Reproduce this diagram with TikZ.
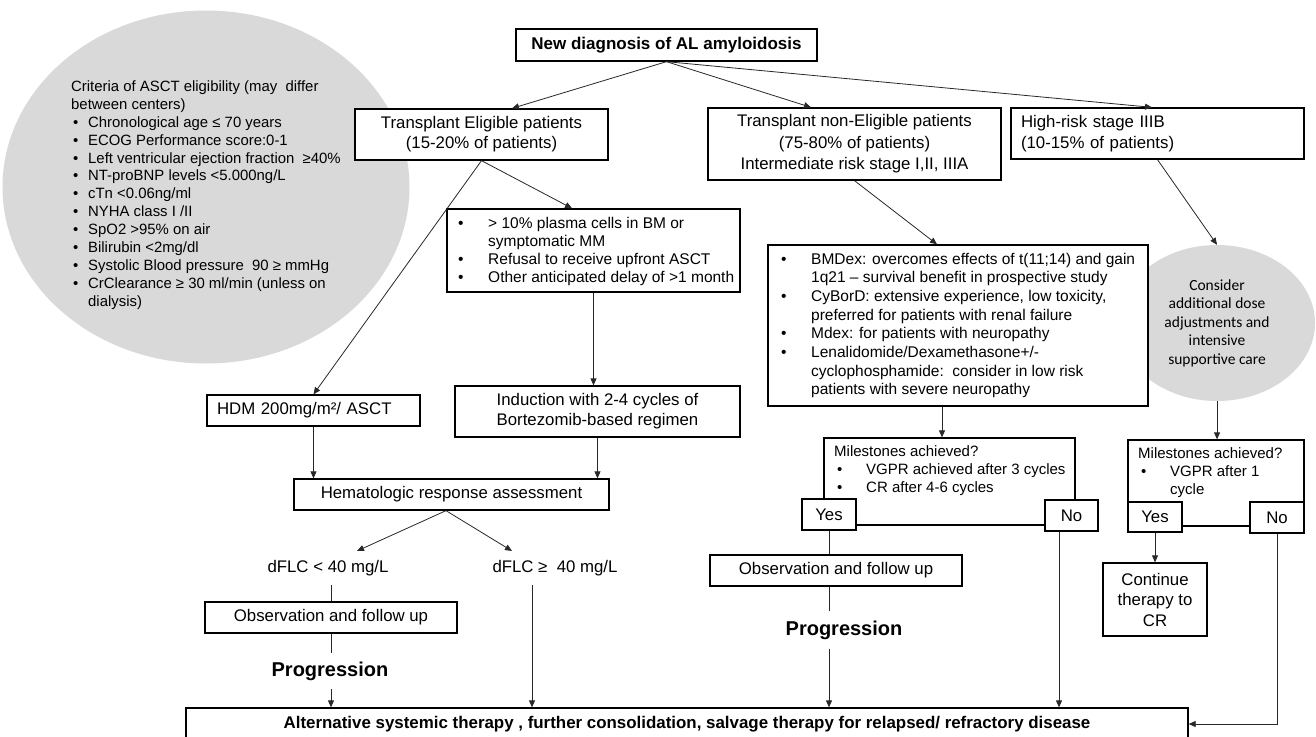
\documentclass[tikz,border=0pt]{standalone}
\usepackage{fontspec}
\setmainfont{Liberation Sans}
\newfontfamily\carlito{Carlito}
\usetikzlibrary{shapes.geometric,arrows.meta}
\definecolor{ellgray}{RGB}{217,217,217}
\definecolor{linec}{RGB}{40,40,40}
\newcommand\myfs[2]{\fontsize{#1}{#2}\selectfont}
\newcommand\bul[1]{\makebox[#1][l]{•}}
\begin{document}
\begin{tikzpicture}[x=1pt,y=-1pt,
  box/.style={draw=black, line width=1.3pt, fill=white, inner sep=0pt, font=\myfs{16.8}{20}},
  txt/.style={inner sep=0pt, align=left, font=\myfs{16.8}{20}},
  conn/.style={draw=linec, line width=0.8pt},
  arr/.style={conn, -{Triangle[length=7pt,width=6pt]}},
  blob/.style={ellipse, fill=ellgray, draw=none, inner sep=0pt},
]
\useasboundingbox (0,0) rectangle (1316,736);
\fill[white] (0,0) rectangle (1316,736);
\clip (0,0) rectangle (1316,736);

% background ellipses
\node[blob, minimum width=407pt, minimum height=353pt] (ellL) at (206,187) {};
\node[txt, anchor=west, font=\myfs{14.9}{17.9}] (crit) at (71,195) {Criteria of ASCT eligibility (may\ \ differ\\
between centers)\\
\hspace*{2pt}\bul{15pt}Chronological age ≤ 70 years\\
\hspace*{2pt}\bul{15pt}ECOG Performance score:0-1\\
\hspace*{2pt}\bul{15pt}Left ventricular ejection fraction\ \ ≥40\%\\
\hspace*{2pt}\bul{15pt}NT-proBNP levels <5.000ng/L\\
\hspace*{2pt}\bul{15pt}cTn <0.06ng/ml\\
\hspace*{2pt}\bul{15pt}NYHA class I /II\\
\hspace*{2pt}\bul{15pt}SpO2 >95\% on air\\
\hspace*{2pt}\bul{15pt}Bilirubin <2mg/dl\\
\hspace*{2pt}\bul{15pt}Systolic Blood pressure\ \ 90 ≥ mmHg\\
\hspace*{2pt}\bul{15pt}CrClearance ≥ 30 ml/min (unless on\\
\hspace*{17pt}dialysis)};
\node[blob, minimum width=196pt, minimum height=156pt, align=center, font=\carlito\myfs{15.5}{18.5}] (ellR) at (1217,323) {Consider\\additional dose\\adjustments and\\intensive\\supportive care};

% boxes
\node[box, minimum width=301pt, minimum height=32pt, font=\bfseries\myfs{17}{20}] (top) at (666.5,45) {New diagnosis of AL amyloidosis};
\node[box, minimum width=253pt, minimum height=51pt, align=center] (elig) at (481.5,134.5) {Transplant Eligible patients\\(15-20\% of patients)};
\node[box, minimum width=293pt, minimum height=72pt, align=center, font=\myfs{16.8}{21.5}] (nonelig) at (854.5,144) {Transplant non-Eligible patients\\(75-80\% of patients)\\Intermediate risk stage I,II, IIIA};
\node[box, minimum width=293pt, minimum height=51pt, text width=273pt, align=left, font=\myfs{16.8}{21}] (high) at (1157.5,133.5) {High-risk stage IIIB\\(10-15\% of patients)};

\node[box, minimum width=293pt, minimum height=83pt] (plasma) at (593.5,250.5) {};
\node[txt, anchor=west, font=\myfs{15.5}{18}] (plasmat) at (458,251) {\bul{30pt}> 10\% plasma cells in BM or\\
\hspace*{30pt}symptomatic MM\\
\bul{30pt}Refusal to receive upfront ASCT\\
\bul{30pt}Other anticipated delay of >1 month};

\node[box, minimum width=380pt, minimum height=161pt] (bmdex) at (958,325.5) {};
\node[txt, anchor=west, font=\myfs{15.5}{18.7}] (bmdext) at (781,325.5) {\bul{30pt}BMDex: overcomes effects of t(11;14) and gain\\
\hspace*{30pt}1q21 – survival benefit in prospective study\\
\bul{30pt}CyBorD: extensive experience, low toxicity,\\
\hspace*{30pt}preferred for patients with renal failure\\
\bul{30pt}Mdex: for patients with neuropathy\\
\bul{30pt}Lenalidomide/Dexamethasone+/-\\
\hspace*{30pt}cyclophosphamide:\ \ consider in low risk\\
\hspace*{30pt}patients with severe neuropathy};

\node[box, minimum width=213pt, minimum height=31pt, text width=193pt, align=left] (hdm) at (313.5,410.5) {HDM 200mg/m²/ ASCT};
\node[box, minimum width=285pt, minimum height=51pt, align=center] (induct) at (597.5,411.5) {Induction with 2-4 cycles of\\Bortezomib-based regimen};
\node[box, minimum width=315pt, minimum height=31pt] (hema) at (451.5,494.5) {Hematologic response assessment};

\node[txt, inner ysep=9pt] (d1) at (328,568) {dFLC < 40 mg/L};
\node[txt, inner ysep=9pt] (d2) at (555,568) {dFLC ≥\ \ 40 mg/L};
\node[box, minimum width=252pt, minimum height=31pt] (obs1) at (331,617.5) {Observation and follow up};
\node[txt, inner ysep=8pt, font=\bfseries\myfs{20}{24}] (prog1) at (330,671) {Progression};

\node[box, minimum width=251pt, minimum height=87pt] (ms1) at (949.5,481.5) {};
\node[txt, anchor=west, font=\myfs{15}{18}] (ms1t) at (834,471) {Milestones achieved?\\
\hspace*{3pt}\bul{29pt}VGPR achieved after 3 cycles\\
\hspace*{3pt}\bul{29pt}CR after 4-6 cycles};
\node[box, minimum width=54pt, minimum height=31pt] (yes1) at (829,514.5) {Yes};
\node[box, minimum width=53pt, minimum height=31pt] (no1) at (1071.5,515.5) {No};
\node[box, minimum width=252pt, minimum height=31pt] (obs2) at (836,570.5) {Observation and follow up};
\node[txt, inner ysep=9pt, font=\bfseries\myfs{20}{24}] (prog2) at (844,630) {Progression};

\node[box, minimum width=176pt, minimum height=86pt] (ms2) at (1216,483) {};
\node[txt, anchor=west, font=\myfs{15}{18}] (ms2t) at (1138,472.5) {Milestones achieved?\\
\hspace*{3pt}\bul{29pt}VGPR after 1\\
\hspace*{32pt}cycle};
\node[box, minimum width=54pt, minimum height=30pt] (yes2) at (1155,517) {Yes};
\node[box, minimum width=54pt, minimum height=31pt] (no2) at (1277,517.5) {No};
\node[box, minimum width=104pt, minimum height=73pt, align=center, font=\myfs{16.8}{20.5}] (cont) at (1155,599.5) {Continue\\therapy to\\CR};

\node[box, minimum width=1002pt, minimum height=32pt, font=\bfseries\myfs{16.9}{20}] (bottom) at (687,724) {Alternative systemic therapy , further consolidation, salvage therapy for relapsed/ refractory disease};

% connectors
\draw[arr] (top.south) -- ([xshift=30.5pt]elig.north);
\draw[arr] (top.south) -- ([xshift=-43.5pt]nonelig.north);
\draw[arr] (top.south) -- ([xshift=-5.5pt]high.north);
\draw[arr] (elig.south) -- ([xshift=-21.5pt]plasma.north);
\draw[arr] (elig.south) -- (hdm.north);
\draw[arr] (plasma.south) -- (plasma.south |- induct.north);
\draw[arr] (hdm.south) -- (hdm.south |- hema.north);
\draw[arr] (induct.south) -- (induct.south |- hema.north);
\coordinate (hapex) at ([xshift=-5.5pt]hema.south);
\draw[arr] (hapex) -- ([xshift=29pt]d1.north);
\draw[arr] (hapex) -- ([xshift=-43pt]d2.north);
\draw[conn] (obs1.north |- d1.south) -- (obs1.north);
\draw[conn] (obs1.south) -- (obs1.south |- prog1.north);
\draw[arr] (obs1.south |- prog1.south) -- (obs1.south |- bottom.north);
\coordinate (d2b) at ([xshift=-23pt]d2.south);
\draw[arr] (d2b) -- (d2b |- bottom.north);
\draw[arr] (nonelig.south) -- ([xshift=-21pt]bmdex.north);
\draw[arr] (high.south) -- (ellR.north);
\coordinate (bmb) at ([xshift=-16pt]bmdex.south);
\draw[arr] (bmb) -- (bmb |- ms1.north);
\draw[arr] (ellR.south) -- (ellR.south |- ms2.north);
\draw[conn] (yes1.south) -- (yes1.south |- obs2.north);
\draw[conn] (yes1.south |- obs2.south) -- (yes1.south |- prog2.north);
\draw[arr] (yes1.south |- prog2.south) -- (yes1.south |- bottom.north);
\coordinate (nob) at ([xshift=-12.5pt]no1.south);
\draw[arr] (nob) -- (nob |- bottom.north);
\draw[arr] (yes2.south) -- (cont.north);
\draw[arr] (no2.south) -- (no2.south |- bottom.east) -- (bottom.east);
\end{tikzpicture}
\end{document}
